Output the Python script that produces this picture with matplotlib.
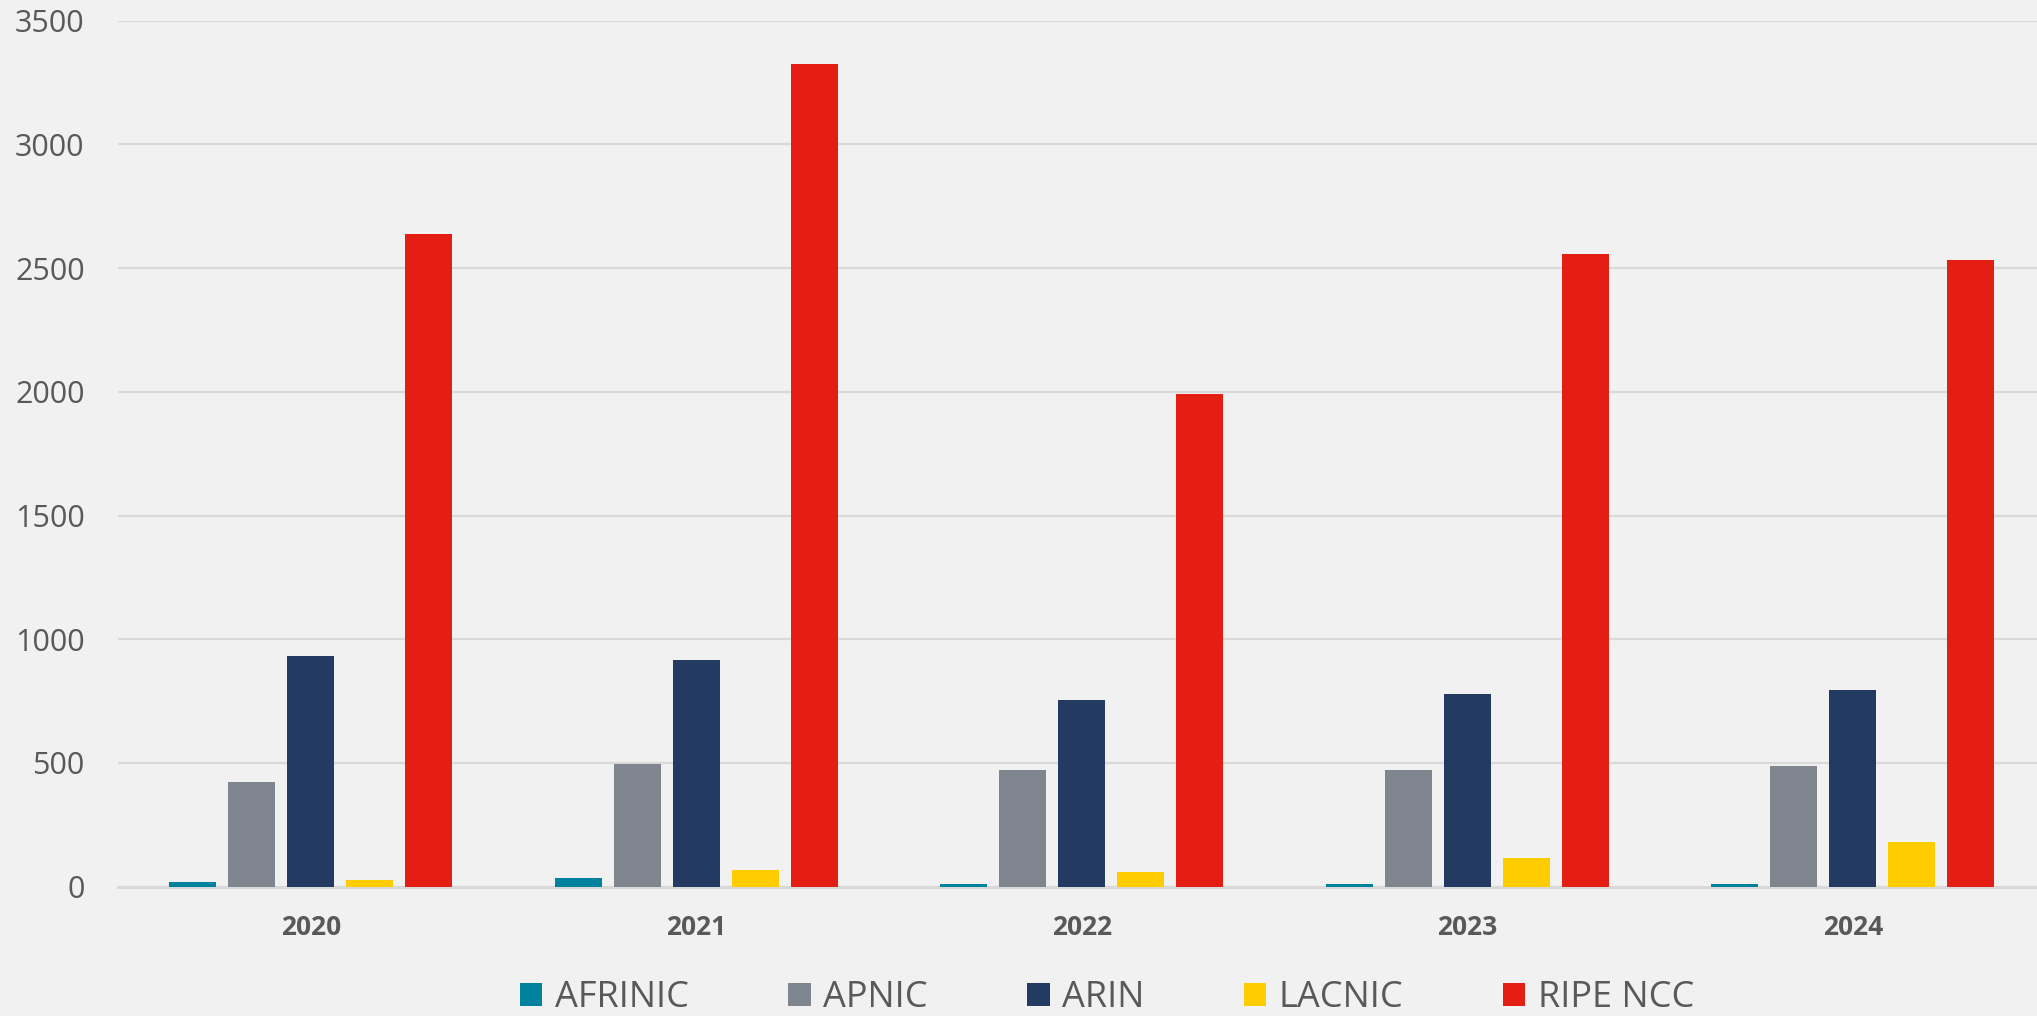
import numpy as np
import matplotlib
matplotlib.use("Agg")
import matplotlib.pyplot as plt

plt.rcParams['font.family'] = ['Open Sans', 'DejaVu Sans']

# data
years = ['2020', '2021', '2022', '2023', '2024']
registries = ['AFRINIC', 'APNIC', 'ARIN', 'LACNIC', 'RIPE NCC']
afrinic = [19, 35, 11, 11, 11]
apnic = [423, 496, 472, 472, 488]
arin = [932, 916, 755, 779, 795]
lacnic = [27, 67, 59, 116, 181]
ripe_ncc = [2638, 3325, 1992, 2558, 2533]

colors = ['#00829F', '#7F868F', '#233A62', '#FFCC00', '#E41E13']
series = [afrinic, apnic, arin, lacnic, ripe_ncc]

bg = '#F1F1F1'
text_col = '#595959'

fig = plt.figure(figsize=(20.37, 10.16), dpi=100, facecolor=bg)
# axes runs a little past the right edge, like the original crop
ax = fig.add_axes([118 / 2037, 129.3 / 1016, 5 * 385.5 / 2037, 866 / 1016])
ax.set_facecolor(bg)

x = np.arange(len(years))
slot = 0.153
width = 0.122
for i, (name, vals, c) in enumerate(zip(registries, series, colors)):
    ax.bar(x + (i - 2) * slot, vals, width, color=c, label=name, zorder=3)

ax.set_xlim(-0.5, len(years) - 0.5)
ax.set_ylim(0, 3500)
ax.set_yticks(np.arange(0, 3501, 500))
ax.set_xticks(x)
ax.set_xticklabels(years, fontweight='bold')

# gridlines and axis styling
ax.yaxis.grid(True, color='#D9D9D9', linewidth=1.6, zorder=0)
ax.set_axisbelow(True)
for side in ['top', 'right', 'left']:
    ax.spines[side].set_visible(False)
ax.spines['bottom'].set_color('#D9D9D9')
ax.spines['bottom'].set_linewidth(2.2)
ax.tick_params(axis='y', length=0, pad=24, labelsize=22, labelcolor=text_col)
ax.tick_params(axis='x', length=0, pad=20, labelsize=19, labelcolor=text_col)

leg = fig.legend(loc='center', bbox_to_anchor=(0.5435, 0.0177), ncol=5,
                 frameon=False, fontsize=26, handlelength=0.62,
                 handleheight=0.62, handletextpad=0.35, columnspacing=2.75,
                 labelcolor=text_col)

fig.savefig('out.png', dpi=100, facecolor=bg)
